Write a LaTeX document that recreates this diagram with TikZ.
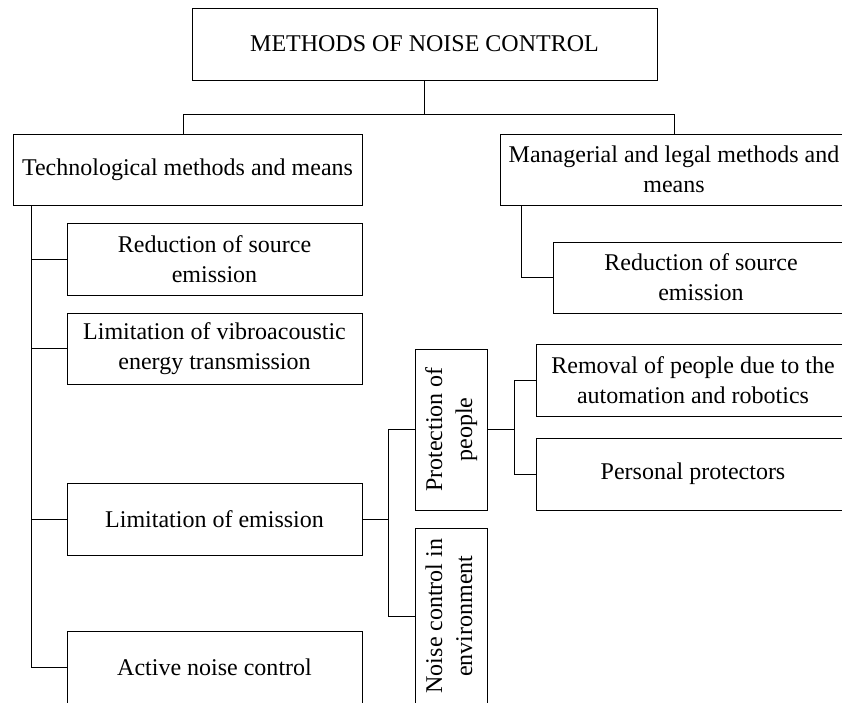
\documentclass[tikz,border=0pt]{standalone}
\usepackage{fontspec}
\setmainfont{Liberation Serif}
\begin{document}
\begin{tikzpicture}[x=1pt,y=-1pt,
  box/.style={draw, line width=0.8pt, inner sep=0pt, align=center, font=\fontsize{24}{30}\selectfont},
  conn/.style={line width=0.8pt}]
\useasboundingbox (0,0) rectangle (842,702);
\fill[white] (0,0) rectangle (842,702);
\clip (0,0) rectangle (842,702);
\node[box, minimum width=465pt, minimum height=72pt] (title) at (424.5,44) {METHODS OF NOISE CONTROL};
\node[box, minimum width=349pt, minimum height=71pt] (tech) at (187.5,169.5) {Technological methods and means};
\node[box, minimum width=348pt, minimum height=71pt] (manag) at (674,169.5) {Managerial and legal methods and\\means};
\node[box, minimum width=295pt, minimum height=72pt] (red1) at (214.5,259) {Reduction of source\\emission};
\node[box, minimum width=295pt, minimum height=71pt] (vib) at (214.5,348.5) {Limitation of vibroacoustic\\energy transmission};
\node[box, minimum width=295pt, minimum height=72pt] (emis) at (214.5,519) {Limitation of emission};
\node[box, minimum width=295pt, minimum height=73pt] (active) at (214.5,667.5) {Active noise control};
\node[box, minimum width=296pt, minimum height=71pt] (red2) at (701,277.5) {Reduction of source\\emission};
\node[box, minimum width=72pt, minimum height=161pt] (prot) at (451,429.5) {\rotatebox{90}{\begin{tabular}{@{}c@{}}Protection of\\people\end{tabular}}};
\node[box, minimum width=72pt, minimum height=176pt] (env) at (451,616) {\rotatebox{90}{\begin{tabular}{@{}c@{}}Noise control in\\environment\end{tabular}}};
\node[box, minimum width=314pt, minimum height=72pt] (removal) at (693,380) {Removal of people due to the\\automation and robotics};
\node[box, minimum width=314pt, minimum height=72pt] (personal) at (693,474) {Personal protectors};
\coordinate (jL) at (183,114);
\coordinate (jR) at (674,114);
\coordinate (tk) at (31,0);
\coordinate (mk) at (521,0);
\coordinate (ek) at (388,0);
\coordinate (pk) at (514,0);
\draw[conn] (title.south) -- (title.south |- jL);
\draw[conn] (jL |- tech.north) -- (jL) -- (jR) -- (manag.north);
\draw[conn] (tech.south -| tk) -- (active.west -| tk) -- (active.west);
\draw[conn] (red1.west -| tk) -- (red1.west);
\draw[conn] (vib.west -| tk) -- (vib.west);
\draw[conn] (emis.west -| tk) -- (emis.west);
\draw[conn] (manag.south -| mk) -- (red2.west -| mk) -- (red2.west);
\draw[conn] (emis.east) -- (emis.east -| ek);
\draw[conn] (prot.west) -- (prot.west -| ek) -- (env.west -| ek) -- (env.west);
\draw[conn] (prot.east) -- (prot.east -| pk);
\draw[conn] (removal.west) -- (removal.west -| pk) -- (personal.west -| pk) -- (personal.west);
\end{tikzpicture}
\end{document}
